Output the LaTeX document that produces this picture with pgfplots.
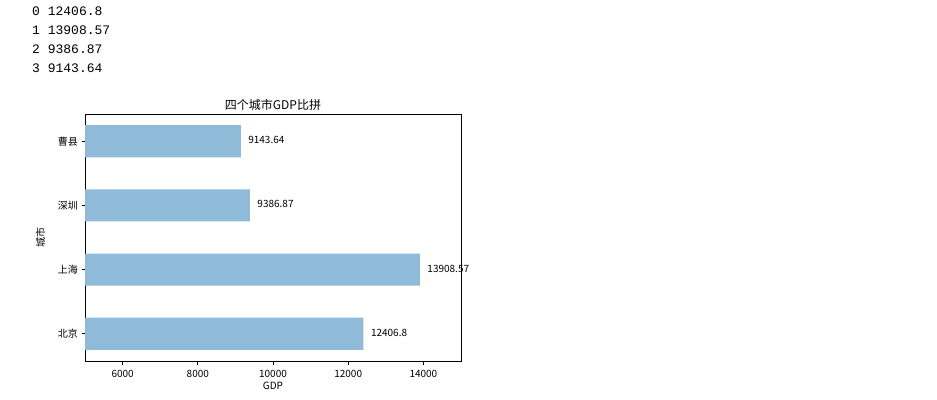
\documentclass[border=0pt]{standalone}
\usepackage{fontspec}
\setmainfont{Noto Sans CJK SC}
\newfontfamily\monofont{Liberation Mono}
\usepackage{pgfplots}
\pgfplotsset{compat=1.18}
\definecolor{barblue}{RGB}{143,187,217}
\begin{document}
\begin{tikzpicture}[x=1pt,y=1pt]
\path (0,0) rectangle (937,-399);
\node[anchor=base west, inner sep=0pt, font=\monofont\fontsize{13}{15}\selectfont] at (32,-15) {0 12406.8};
\node[anchor=base west, inner sep=0pt, font=\monofont\fontsize{13}{15}\selectfont] at (32,-34) {1 13908.57};
\node[anchor=base west, inner sep=0pt, font=\monofont\fontsize{13}{15}\selectfont] at (32,-53) {2 9386.87};
\node[anchor=base west, inner sep=0pt, font=\monofont\fontsize{13}{15}\selectfont] at (32,-72) {3 9143.64};
\begin{axis}[
  at={(85pt,-361pt)}, anchor=south west,
  scale only axis, width=376pt, height=247pt,
  xbar, bar width=0.5,
  xmin=5000, xmax=15000, ymin=-0.425, ymax=3.425,
  ytick={0,1,2,3}, yticklabels={北京,上海,深圳,曹县},
  xtick={6000,8000,10000,12000,14000},
  scaled x ticks=false,
  tick align=outside, xtick pos=bottom, ytick pos=left,
  major tick length=3.5pt,
  axis line style={black, line width=0.8pt},
  tick style={black, line width=0.8pt},
  /pgf/number format/assume math mode=true,
  /pgf/number format/set thousands separator={},
  ticklabel style={font=\fontsize{10}{12}\selectfont},
  xticklabel style={yshift=-2pt},
  xlabel={GDP}, ylabel={城市},
  label style={font=\fontsize{10}{12}\selectfont},
  xlabel style={yshift=2pt},
  ylabel style={yshift=6pt},
  title={四个城市GDP比拼},
  title style={font=\fontsize{12}{14}\selectfont, yshift=-6pt},
  clip=false,
  point meta=explicit symbolic,
  nodes near coords,
  every node near coord/.style={anchor=west, xshift=4pt, yshift=1pt, font=\fontsize{10}{12}\selectfont, black},
]
\addplot[fill=barblue, draw=none] coordinates {
  (12406.8,0) [12406.8]
  (13908.57,1) [13908.57]
  (9386.87,2) [9386.87]
  (9143.64,3) [9143.64]
};
\end{axis}
\end{tikzpicture}
\end{document}
